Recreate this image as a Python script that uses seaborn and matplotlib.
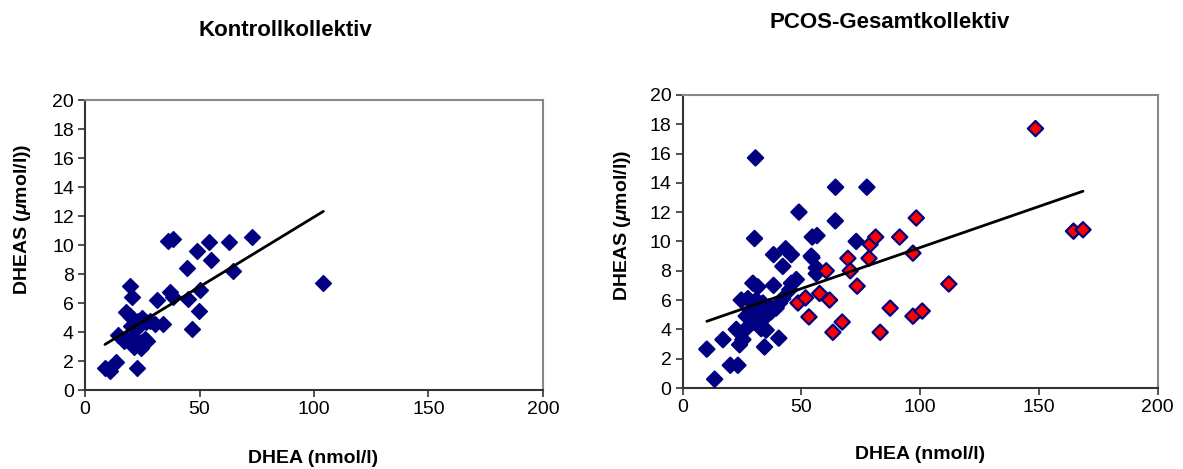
import numpy as np
import pandas as pd
import matplotlib
matplotlib.use("Agg")
import matplotlib.pyplot as plt
import seaborn as sns

# Kontrollkollektiv: DHEA (nmol/l) vs DHEAS (umol/l)
ctrl_dhea = [8.7, 11.0, 13.5, 22.5, 14.5, 17.0, 18.0, 20.0, 21.5, 23.0, 24.5, 25.0,
             26.0, 27.0, 22.0, 24.0, 18.0, 19.5, 21.0, 23.0, 25.0, 26.5, 28.5, 30.5,
             20.0, 19.7, 20.4, 31.3, 37.0, 38.6, 44.8, 50.2, 49.8, 46.6, 34.2, 44.7,
             48.8, 54.9, 54.1, 62.9, 73.1, 64.8, 104.1, 36.4, 38.3]
ctrl_dheas = [1.55, 1.35, 1.95, 1.5, 3.8, 3.4, 3.5, 3.6, 3.0, 3.4, 2.9, 3.3,
              3.5, 3.4, 4.2, 4.5, 5.4, 5.1, 4.9, 4.8, 5.0, 4.7, 4.8, 4.6,
              4.4, 7.2, 6.4, 6.2, 6.8, 6.4, 6.3, 6.9, 5.5, 4.2, 4.6, 8.4,
              9.6, 9.0, 10.2, 10.2, 10.6, 8.2, 7.4, 10.3, 10.4]

# PCOS-Gesamtkollektiv, blue group
pcos_a_dhea = [13.5, 10.2, 20.1, 23.3, 17.0, 24.0, 25.4, 34.5, 40.5,
               22.6, 26.8, 33.1, 35.2, 30.3, 32.4,
               26.8, 29.6, 35.2, 37.3, 39.4,
               24.7, 27.5, 31.0, 33.8, 36.6, 40.8, 42.2,
               29.6, 31.7, 38.3, 45.8, 47.9, 45.1,
               38.3, 42.2, 45.8, 43.4, 54.2, 56.3, 56.3, 54.5,
               30.7, 64.4, 77.6, 49.0, 64.3, 30.3, 54.6, 56.6, 73.1,
               28.5, 32.0]
pcos_a_dheas = [0.6, 2.65, 1.55, 1.55, 3.3, 2.95, 3.3, 2.8, 3.4,
                4.0, 4.05, 4.05, 3.95, 4.5, 4.3,
                4.9, 5.0, 4.9, 5.2, 5.45,
                6.0, 6.1, 6.0, 5.8, 5.55, 5.8, 6.1,
                7.15, 6.9, 7.0, 7.15, 7.4, 6.7,
                9.1, 8.3, 9.1, 9.5, 9.0, 7.8, 8.2, 8.9,
                15.7, 13.7, 13.7, 12.0, 11.4, 10.2, 10.3, 10.4, 10.0,
                5.3, 5.2]

# PCOS-Gesamtkollektiv, red group
pcos_b_dhea = [48.6, 51.8, 53.2, 57.7, 60.5, 69.6, 70.6, 78.5, 79.0, 81.3, 73.5, 61.9,
               63.3, 67.2, 148.6, 164.6, 168.6, 98.4, 91.4, 97.0, 112.1, 87.4, 97.0,
               100.9, 83.2]
pcos_b_dheas = [5.8, 6.15, 4.85, 6.45, 8.0, 8.85, 8.0, 8.85, 9.8, 10.3, 6.95, 6.0,
                3.8, 4.5, 17.7, 10.7, 10.8, 11.6, 10.3, 9.2, 7.1, 5.45, 4.9,
                5.25, 3.8]

ctrl = pd.DataFrame({"DHEA": ctrl_dhea, "DHEAS": ctrl_dheas})
pcos = pd.DataFrame({
    "DHEA": pcos_a_dhea + pcos_b_dhea,
    "DHEAS": pcos_a_dheas + pcos_b_dheas,
    "grp": ["a"] * len(pcos_a_dhea) + ["b"] * len(pcos_b_dhea),
})

sns.set_style("ticks")
plt.rcParams["font.family"] = ["Liberation Sans", "DejaVu Sans"]
plt.rcParams["text.color"] = "black"
plt.rcParams["xtick.color"] = "black"
plt.rcParams["ytick.color"] = "black"
plt.rcParams["mathtext.fontset"] = "custom"
plt.rcParams["mathtext.it"] = "Liberation Sans:italic:bold"
plt.rcParams["mathtext.rm"] = "Liberation Sans:bold"

navy = "#000080"
fig = plt.figure(figsize=(11.83, 4.69), dpi=100)
ax1 = fig.add_axes([0.0719, 0.168, 0.387, 0.618])
ax2 = fig.add_axes([0.577, 0.1727, 0.4015, 0.625])

sns.scatterplot(data=ctrl, x="DHEA", y="DHEAS", ax=ax1, marker="D", s=65,
                color=navy, edgecolor=navy, linewidth=1, zorder=3)
sns.regplot(data=ctrl, x="DHEA", y="DHEAS", ax=ax1, scatter=False, ci=None,
            truncate=True, color="black", line_kws={"lw": 2, "zorder": 4})

sns.scatterplot(data=pcos, x="DHEA", y="DHEAS", hue="grp", ax=ax2, marker="D", s=60,
                palette={"a": navy, "b": "#ff0000"}, edgecolor=navy, linewidth=1.6,
                legend=False, zorder=3)
sns.regplot(data=pcos, x="DHEA", y="DHEAS", ax=ax2, scatter=False, ci=None,
            truncate=True, color="black", line_kws={"lw": 2, "zorder": 4})

for ax in (ax1, ax2):
    ax.set_xlim(0, 200)
    ax.set_ylim(0, 20)
    ax.set_xticks([0, 50, 100, 150, 200])
    ax.set_yticks(range(0, 21, 2))
    ax.tick_params(axis="both", direction="out", length=5, width=1.2,
                   labelsize=14, color="#333333", labelcolor="black", pad=3)
    for side in ("top", "right"):
        ax.spines[side].set_visible(True)
        ax.spines[side].set_color("#888888")
        ax.spines[side].set_linewidth(1.5)
    for side in ("left", "bottom"):
        ax.spines[side].set_color("#333333")
        ax.spines[side].set_linewidth(1.5)
    ax.set_xlabel("")
    ax.set_ylabel("")

fig.text(0.241, 0.935, "Kontrollkollektiv", ha="center", va="center",
         fontsize=16, fontweight="bold")
fig.text(0.752, 0.952, "PCOS-Gesamtkollektiv", ha="center", va="center",
         fontsize=16, fontweight="bold")
fig.text(0.265, 0.022, "DHEA (nmol/l)", ha="center", va="center",
         fontsize=14, fontweight="bold")
fig.text(0.778, 0.03, "DHEA (nmol/l)", ha="center", va="center",
         fontsize=14, fontweight="bold")
ylab = "DHEAS ($\\mu$mol/l))"
fig.text(0.0186, 0.533, ylab, ha="center", va="center", rotation=90,
         fontsize=14, fontweight="bold")
fig.text(0.526, 0.52, ylab, ha="center", va="center", rotation=90,
         fontsize=14, fontweight="bold")

fig.savefig("out.png", dpi=100, facecolor="white")
